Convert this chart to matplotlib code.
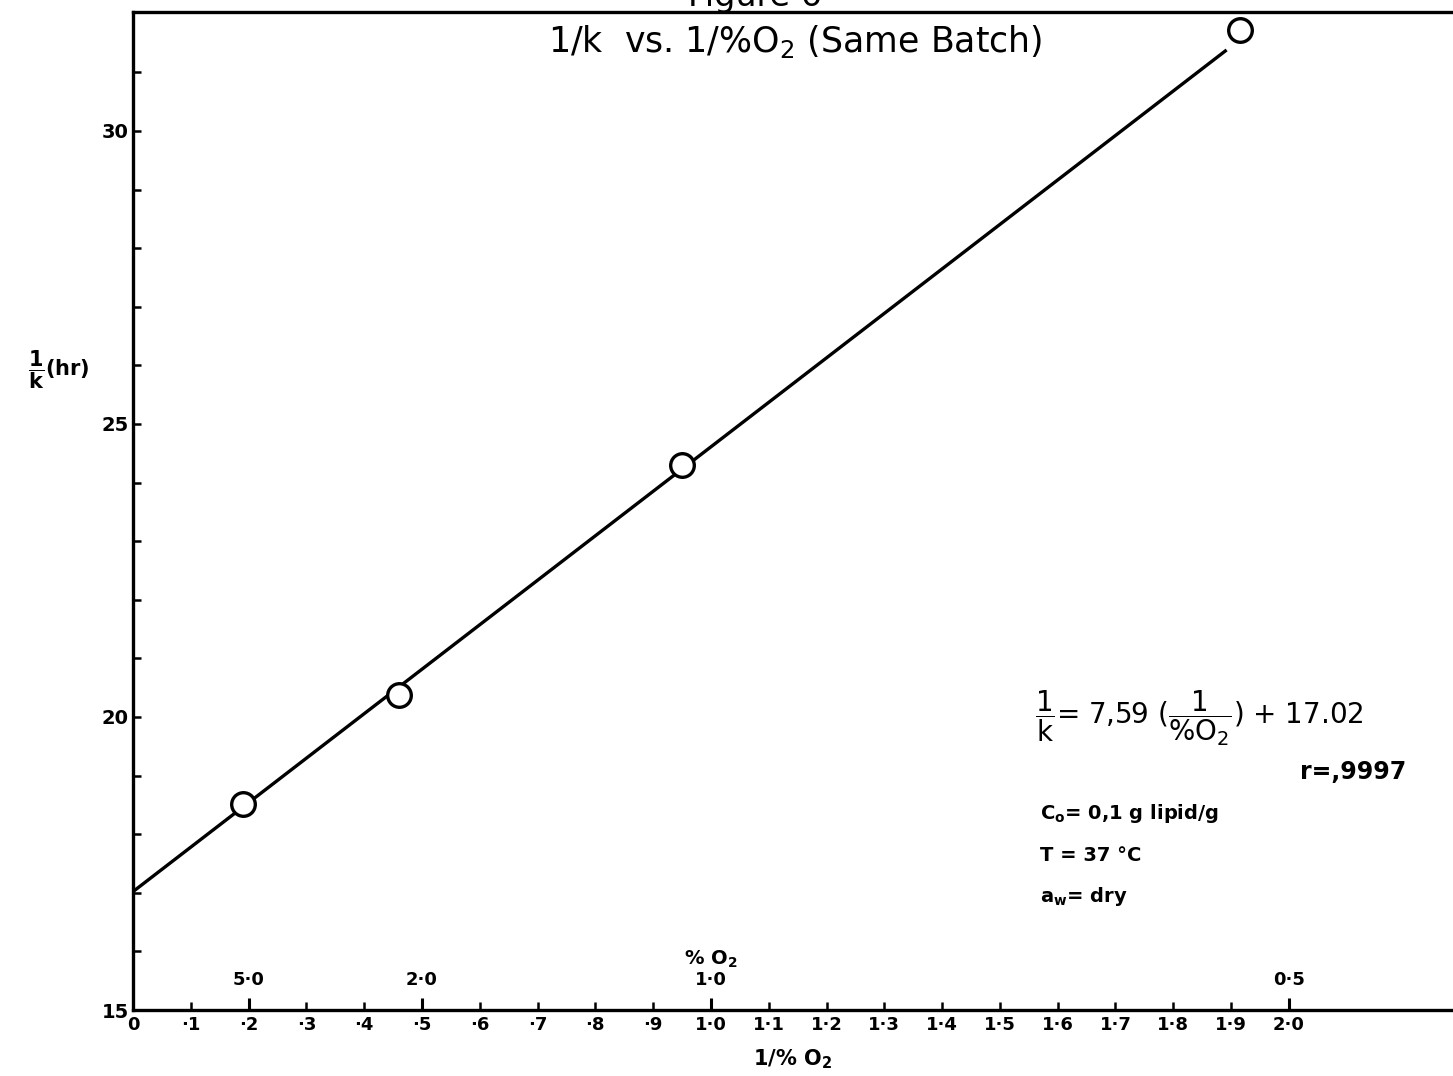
import matplotlib
matplotlib.use("Agg")
import matplotlib.pyplot as plt
import numpy as np

# data
inv_o2 = [0.19, 0.46, 0.95, 1.915]          # 1/%O2
inv_k = [18.52, 20.38, 24.30, 31.72]       # 1/k (hr)
fit_slope = 7.59
fit_intercept = 17.02
fit_range = [0.0, 1.89]

x_ticks = np.round(np.arange(0, 2.01, 0.1), 1)
x_tick_labels = ["0", "·1", "·2", "·3", "·4", "·5", "·6", "·7", "·8", "·9",
                 "1·0", "1·1", "1·2", "1·3", "1·4", "1·5", "1·6", "1·7", "1·8", "1·9", "2·0"]
pct_ticks = [0.2, 0.5, 1.0, 2.0]
pct_labels = ["5·0", "2·0", "1·0", "0·5"]
y_ticks = list(range(15, 32))
y_tick_labels = [str(v) if v % 5 == 0 else "" for v in y_ticks]

plt.rcParams["font.family"] = "DejaVu Sans"
plt.rcParams["mathtext.default"] = "regular"

fig = plt.figure(figsize=(14.53, 10.76), dpi=100)
ax = fig.add_axes([133 / 1453, 66 / 1076, 1 - 133 / 1453, 998 / 1076])

fx = np.array(fit_range)
ax.plot(fx, fit_slope * fx + fit_intercept, color="black", lw=2.4, zorder=2)
ax.plot(inv_o2, inv_k, linestyle="none", marker="o", ms=17, mfc="white",
        mec="black", mew=2.4, zorder=3, clip_on=False)

ax.set_xlim(0, 2.284)
ax.set_ylim(15, 32.03)
ax.set_xticks(x_ticks)
ax.set_xticklabels(x_tick_labels, fontsize=13, fontweight="bold")
ax.set_yticks(y_ticks)
ax.set_yticklabels(y_tick_labels, fontsize=14, fontweight="bold")
ax.tick_params(axis="both", direction="in", length=6, width=1.8, pad=4)
ax.tick_params(axis="y", pad=3)
for s in ["left", "bottom", "top"]:
    ax.spines[s].set_linewidth(2.4)
ax.spines["right"].set_visible(False)

# % O2 scale drawn on the bottom line
sec = ax.secondary_xaxis(0.0, functions=(lambda v: v, lambda v: v))
sec.set_alignment("top")
sec.set_xticks(pct_ticks)
sec.set_xticklabels(pct_labels, fontsize=13, fontweight="bold")
sec.tick_params(direction="out", length=9, width=2.2, pad=6)
for s in sec.spines.values():
    s.set_visible(False)
ax.text(1.0, 0.04, "% O$_2$", transform=ax.get_xaxis_transform(),
        ha="center", va="bottom", fontsize=14, fontweight="bold")

ax.set_xlabel("1/% O$_2$", fontsize=15, labelpad=10, fontweight="bold")
fig.text(28 / 1453, 1 - 370 / 1076, r"$\mathbf{\dfrac{1}{k}}$(hr)", fontsize=15,
         ha="left", va="center", fontweight="bold")

fig.text(755 / 1453, 1 - 6 / 1076, "Figure 6", ha="center", va="baseline", fontsize=24)
fig.text(795 / 1453, 1 - 42 / 1076, "1/k  vs. 1/%O$_2$ (Same Batch)", ha="center",
         va="center", fontsize=25)

ax.text(1.56, 19.98, r"$\dfrac{1}{k}$= 7,59 ($\dfrac{1}{\%O_2}$) + 17.02",
        fontsize=20, ha="left", va="center")
fig.text(1300 / 1453, 1 - 772 / 1076, "r=,9997", fontsize=17, ha="left", va="center",
         fontweight="bold")
ax.text(1.57, 18.35, "C$_o$= 0,1 g lipid/g", fontsize=14, ha="left", va="center",
        fontweight="bold")
ax.text(1.57, 17.63, "T = 37 °C", fontsize=14, ha="left", va="center", fontweight="bold")
ax.text(1.57, 16.94, "a$_w$= dry", fontsize=14, ha="left", va="center", fontweight="bold")

fig.savefig("out.png", dpi=100)
